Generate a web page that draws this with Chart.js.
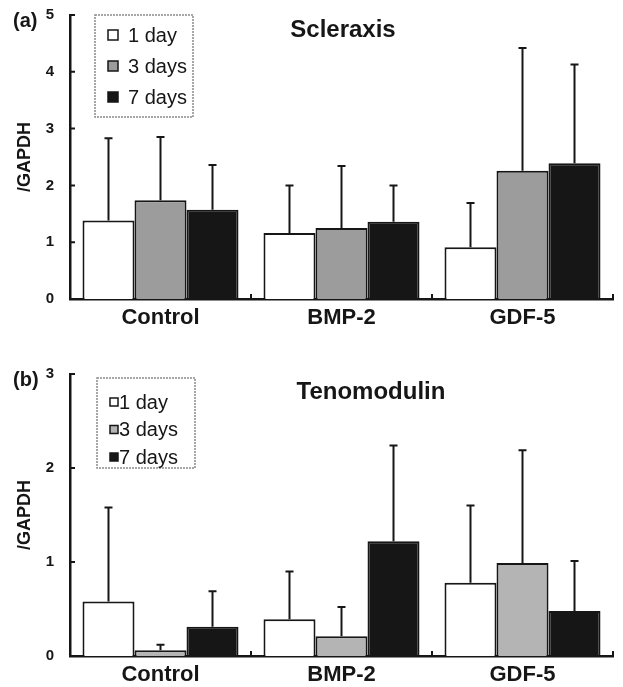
<!DOCTYPE html>
<html>
<head>
<meta charset="utf-8">
<title>Scleraxis / Tenomodulin</title>
<script src="https://cdn.jsdelivr.net/npm/chart.js@4.4.1/dist/chart.umd.min.js"></script>
<style>
  html, body { margin: 0; padding: 0; background: #fff; }
  #wrap { position: relative; width: 623px; height: 687px; }
  canvas { position: absolute; left: 0; }
</style>
</head>
<body>
<div id="wrap">
  <canvas id="chartA" width="623" height="340" style="top:0"></canvas>
  <canvas id="chartB" width="623" height="347" style="top:340px"></canvas>
</div>
<script>
const groups = ['Control', 'BMP-2', 'GDF-5'];
const seriesNames = ['1 day', '3 days', '7 days'];

// (a) Scleraxis /GAPDH, mean and upper SD
const scxDay1 = [1.38, 1.16, 0.91];
const scxDay3 = [1.74, 1.25, 2.26];
const scxDay7 = [1.57, 1.36, 2.39];
const scxDay1Sd = [1.45, 0.84, 0.78];
const scxDay3Sd = [1.11, 1.09, 2.16];
const scxDay7Sd = [0.79, 0.64, 1.74];
const scxMax = 5;

// (b) Tenomodulin /GAPDH
const tnmdDay1 = [0.58, 0.39, 0.78];
const tnmdDay3 = [0.06, 0.21, 0.99];
const tnmdDay7 = [0.31, 1.22, 0.48];
const tnmdDay1Sd = [1.00, 0.51, 0.82];
const tnmdDay3Sd = [0.06, 0.31, 1.20];
const tnmdDay7Sd = [0.38, 1.02, 0.53];
const tnmdMax = 3;

const FAMILY = "'Liberation Sans', Arial, Helvetica, sans-serif";
const INK = '#161616';
Chart.defaults.font.family = FAMILY;
Chart.defaults.color = INK;

// upper error bars, drawn through the y scale
const errorBars = {
  id: 'errorBars',
  afterDatasetsDraw(chart) {
    const { ctx, scales: { y } } = chart;
    ctx.save();
    ctx.strokeStyle = INK;
    ctx.lineWidth = 2;
    chart.data.datasets.forEach((ds, i) => {
      chart.getDatasetMeta(i).data.forEach((bar, j) => {
        const top = y.getPixelForValue(ds.data[j] + ds.sd[j]);
        ctx.beginPath();
        ctx.moveTo(bar.x, bar.y);
        ctx.lineTo(bar.x, top);
        ctx.moveTo(bar.x - 4, top);
        ctx.lineTo(bar.x + 4, top);
        ctx.stroke();
      });
    });
    ctx.restore();
  }
};

// inward ticks, panel letter, title and boxed legend
const panelDecor = {
  id: 'panelDecor',
  afterDraw(chart, args, opts) {
    const { ctx, chartArea: area, scales: { x, y } } = chart;
    ctx.save();
    ctx.strokeStyle = INK;
    ctx.lineWidth = 2;
    ctx.beginPath();
    y.ticks.forEach(t => {
      const py = y.getPixelForValue(t.value);
      ctx.moveTo(area.left, py);
      ctx.lineTo(area.left + 5, py);
    });
    groups.forEach((g, i) => {
      const px = x.getPixelForValue(i + 0.5);
      ctx.moveTo(px, area.bottom);
      ctx.lineTo(px, area.bottom - 5);
    });
    ctx.stroke();

    ctx.fillStyle = INK;
    ctx.font = 'bold 20px ' + FAMILY;
    ctx.textAlign = 'left';
    ctx.textBaseline = 'middle';
    ctx.fillText(opts.letter, 13, area.top + 6);

    ctx.font = 'bold 24px ' + FAMILY;
    ctx.textAlign = 'center';
    ctx.textBaseline = 'alphabetic';
    ctx.fillText(opts.title, opts.titleX, area.top + opts.titleDy);

    const lg = opts.legend;
    const boxTop = area.top + lg.dy;
    ctx.strokeStyle = '#8c8c8c';
    ctx.lineWidth = 1.5;
    ctx.setLineDash([2, 1]);
    ctx.strokeRect(lg.x, boxTop, lg.w, lg.h);
    ctx.setLineDash([]);
    ctx.font = lg.fontSize + 'px ' + FAMILY;
    ctx.textAlign = 'left';
    ctx.textBaseline = 'middle';
    chart.data.datasets.forEach((ds, i) => {
      const cy = boxTop + lg.first + i * lg.step;
      ctx.fillStyle = ds.backgroundColor;
      ctx.fillRect(lg.x + 13, cy - lg.sw / 2, lg.sw, lg.sw);
      ctx.strokeStyle = INK;
      ctx.lineWidth = 1.5;
      ctx.strokeRect(lg.x + 13, cy - lg.sw / 2, lg.sw, lg.sw);
      ctx.fillStyle = INK;
      ctx.fillText(ds.label, lg.x + lg.textDx, cy + 1);
    });
    ctx.restore();
  }
};

function makeChart(id, p) {
  const colors = ['#ffffff', p.gray, '#161616'];
  const datasets = p.values.map((vals, i) => ({
    label: seriesNames[i],
    data: vals,
    sd: p.sds[i],
    backgroundColor: colors[i],
    borderColor: INK,
    borderWidth: 2,
    barPercentage: 1,
    categoryPercentage: 0.862
  }));
  return new Chart(document.getElementById(id), {
    type: 'bar',
    data: { labels: groups, datasets },
    plugins: [errorBars, panelDecor],
    options: {
      responsive: false,
      animation: false,
      layout: { padding: { top: p.top, right: 10, left: 0, bottom: 0 } },
      plugins: {
        legend: { display: false },
        tooltip: { enabled: false },
        panelDecor: p.decor
      },
      scales: {
        x: {
          grid: { display: false, drawTicks: false },
          border: { display: true, color: INK, width: 2.5 },
          ticks: { padding: 6, font: { size: 22, weight: 'bold' }, color: INK },
          afterFit: s => { s.height = p.xHeight; }
        },
        y: {
          min: 0,
          max: p.max,
          grid: { display: false, drawTicks: false },
          border: { display: true, color: INK, width: 2.5 },
          ticks: { stepSize: 1, padding: 16, font: { size: 15, weight: 'bold' }, color: INK },
          title: {
            display: true,
            text: '/GAPDH',
            font: { size: 18, weight: 'bold' },
            color: INK,
            padding: { top: 14, bottom: 0 }
          },
          afterFit: s => {
            s.width = 70;
            s.paddingTop = 0;
            s.paddingBottom = 0;
          }
        }
      }
    }
  });
}

makeChart('chartA', {
  values: [scxDay1, scxDay3, scxDay7],
  sds: [scxDay1Sd, scxDay3Sd, scxDay7Sd],
  max: scxMax,
  gray: '#9c9c9c',
  top: 15,
  xHeight: 41,
  decor: {
    letter: '(a)',
    title: 'Scleraxis',
    titleX: 343,
    titleDy: 22,
    legend: { x: 95, dy: 0, w: 98, h: 102, first: 20, step: 31, sw: 10, textDx: 33, fontSize: 20 }
  }
});

makeChart('chartB', {
  values: [tnmdDay1, tnmdDay3, tnmdDay7],
  sds: [tnmdDay1Sd, tnmdDay3Sd, tnmdDay7Sd],
  max: tnmdMax,
  gray: '#b4b4b4',
  top: 34,
  xHeight: 31,
  decor: {
    letter: '(b)',
    title: 'Tenomodulin',
    titleX: 371,
    titleDy: 25,
    legend: { x: 97, dy: 4, w: 98, h: 90, first: 24, step: 27.5, sw: 8, textDx: 22, fontSize: 20 }
  }
});
</script>
</body>
</html>
